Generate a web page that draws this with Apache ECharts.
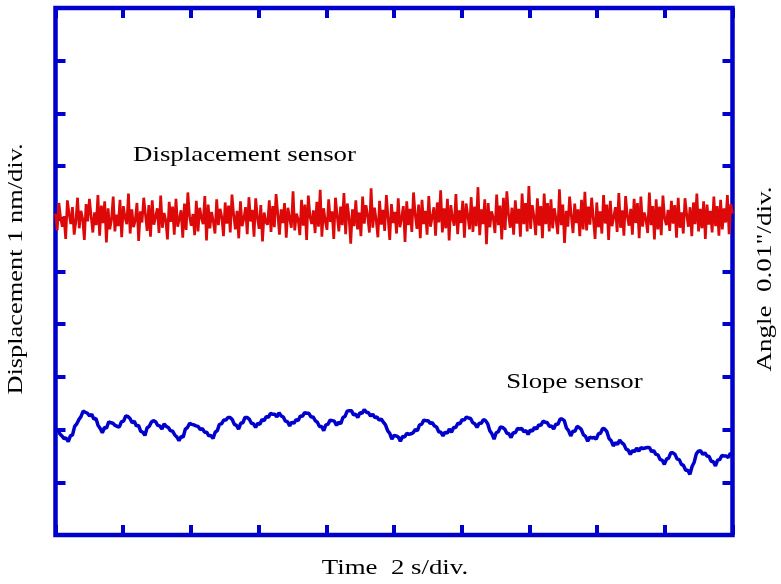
<!DOCTYPE html>
<html>
<head>
<meta charset="utf-8">
<script src="https://cdn.jsdelivr.net/npm/echarts@6/dist/echarts.min.js"></script>
<style>
html,body{margin:0;padding:0;background:#fff;}
#chart{width:781px;height:584px;}
</style>
</head>
<body>
<div id="chart"></div>
<script>
// Time axis: 10 divisions of 2 s
const xTicks = [0,2,4,6,8,10,12,14,16,18,20];
// Vertical axis: 10 divisions
const yTicks = [0,1,2,3,4,5,6,7,8,9,10];

// Displacement sensor signal (in divisions), uniformly sampled over 0..20 s
const displacement = [
6.10,5.78,6.30,6.02,5.85,6.05,5.62,6.35,6.10,5.90,
6.22,5.70,5.95,6.40,5.82,6.15,6.00,5.60,6.28,5.95,
6.38,6.05,5.74,6.12,5.88,6.45,5.68,6.25,5.92,6.33,
5.55,6.20,5.80,5.98,6.42,5.76,6.08,5.86,6.36,5.65,
6.24,6.02,5.90,6.48,5.72,6.18,5.84,5.97,6.30,5.58,
6.14,5.93,6.40,6.08,5.77,6.26,5.66,6.35,5.89,6.04,
6.20,5.73,6.44,5.83,6.11,5.97,5.61,6.32,5.94,6.23,
5.70,6.38,5.85,6.00,6.16,5.64,6.29,5.79,6.50,6.05,
5.87,6.09,5.69,6.34,5.76,6.21,6.02,5.90,6.43,5.59,
6.27,5.82,6.13,5.95,5.72,6.37,5.88,6.19,6.04,5.67,
6.31,5.91,6.25,5.74,6.46,6.08,5.80,6.15,5.63,6.33,
5.86,6.00,6.22,5.71,6.41,5.95,6.17,5.66,6.39,6.02,
5.81,6.26,5.57,6.12,5.93,5.89,6.35,5.75,6.24,5.84,
6.47,6.10,5.70,6.18,5.92,6.30,5.64,6.21,6.00,5.83,
6.52,5.78,6.10,5.99,5.69,6.36,5.87,6.27,5.60,6.44,
6.04,5.90,6.16,5.73,6.32,5.85,6.55,5.66,6.20,5.96,
5.79,6.37,5.94,6.14,5.62,6.40,6.06,5.76,6.23,5.88,
6.49,5.71,6.29,6.03,5.53,6.18,5.86,6.35,5.80,6.12,
5.67,6.42,5.91,6.26,6.05,5.74,6.58,5.83,6.21,5.98,
5.65,6.34,5.89,6.17,5.77,6.45,6.02,5.60,6.28,5.92,
6.13,5.72,6.39,5.84,6.01,6.24,5.56,6.33,5.88,6.19,
5.75,6.50,6.08,5.81,6.27,5.63,6.36,5.90,6.15,5.70,
6.43,5.85,6.03,6.22,5.68,6.31,5.93,6.54,5.74,6.20,
5.82,6.38,5.59,6.26,6.00,5.87,6.47,5.71,6.16,5.92,
6.34,5.64,6.29,6.06,5.80,6.41,5.75,6.23,5.86,6.60,
5.69,6.18,5.90,6.37,5.52,6.30,5.84,6.14,6.02,5.73,
6.46,5.88,6.25,5.61,6.40,5.79,6.52,6.08,5.83,6.21,
5.70,6.35,5.91,6.19,5.66,6.48,5.90,6.30,5.76,6.62,
5.81,6.26,6.04,5.69,6.39,5.87,6.24,5.63,6.48,5.90,
6.30,5.76,6.37,5.82,6.20,5.99,5.71,6.56,5.88,6.27,
5.54,6.15,5.85,6.42,6.06,5.73,6.29,5.92,6.18,5.67,
6.36,5.80,6.51,5.78,6.23,5.89,6.40,6.00,5.62,6.31,
5.84,6.14,5.72,6.45,5.91,6.27,5.60,6.34,5.86,6.03,
6.22,5.75,6.49,5.83,6.16,5.68,6.43,6.05,5.87,6.19,
5.70,6.38,5.92,6.30,5.63,6.42,5.85,6.12,5.99,5.73,
6.50,5.88,6.24,5.61,6.37,5.80,6.23,5.69,6.44,6.01,
5.88,6.17,5.77,6.34,5.91,6.26,5.64,6.40,5.83,6.12,
5.72,6.39,6.08,5.85,6.22,5.67,6.31,5.90,6.48,5.76,
6.19,5.82,6.33,5.62,6.27,5.89,6.15,5.74,6.42,5.86,
6.24,5.68,6.36,5.80,6.20,5.93,6.45,5.71,6.28,6.10
];

// Slope sensor signal (in divisions), uniformly sampled over 0..20 s
const slope = [
1.97,2.01,1.92,1.88,1.83,1.84,1.77,1.88,1.90,2.06,2.11,2.19,2.25,2.35,2.33,2.31,2.26,2.29,2.20,2.21,
2.08,2.02,1.94,2.04,2.03,2.15,2.13,2.12,2.08,2.06,2.05,2.15,2.16,2.26,2.25,2.21,2.13,2.16,2.07,2.08,
1.97,1.95,1.89,2.03,2.06,2.14,2.17,2.15,2.08,2.07,2.01,2.11,2.06,2.04,1.98,1.97,1.90,1.86,1.79,1.87,
1.86,2.01,2.04,2.12,2.10,2.09,2.07,2.06,2.00,2.02,1.95,1.95,1.88,1.89,1.83,1.95,1.98,2.10,2.11,2.18,
2.18,2.23,2.23,2.19,2.10,2.08,2.01,2.12,2.13,2.23,2.23,2.20,2.12,2.11,2.04,2.12,2.10,2.19,2.17,2.25,
2.23,2.31,2.29,2.29,2.24,2.32,2.26,2.24,2.16,2.15,2.07,2.14,2.12,2.19,2.17,2.26,2.25,2.32,2.31,2.31,
2.24,2.24,2.17,2.14,2.06,2.06,1.98,2.09,2.10,2.18,2.17,2.16,2.08,2.14,2.11,2.23,2.25,2.35,2.36,2.36,
2.28,2.29,2.23,2.32,2.31,2.38,2.33,2.32,2.26,2.29,2.23,2.24,2.18,2.20,2.14,2.09,1.98,1.93,1.82,1.89,
1.88,1.86,1.78,1.87,1.86,1.93,1.91,1.92,1.94,2.00,1.98,2.09,2.10,2.18,2.17,2.17,2.12,2.13,2.07,2.05,
1.96,1.95,1.88,1.95,1.93,2.01,1.95,2.04,2.04,2.12,2.11,2.19,2.18,2.24,2.22,2.21,2.13,2.11,2.04,2.12,
2.12,2.19,2.17,2.11,1.98,1.92,1.82,1.94,1.96,2.05,2.04,2.01,1.93,1.92,1.85,1.94,1.94,2.02,2.01,2.02,
1.96,1.98,1.91,1.99,1.97,2.04,2.01,2.09,2.08,2.16,2.14,2.13,2.06,2.07,2.01,2.10,2.10,2.20,2.20,2.17,
2.03,1.98,1.88,1.97,1.97,2.06,2.04,2.00,1.90,1.87,1.78,1.86,1.84,1.85,1.82,1.92,1.93,2.02,2.01,1.96,
1.83,1.79,1.69,1.75,1.72,1.80,1.75,1.72,1.63,1.61,1.53,1.60,1.58,1.65,1.59,1.66,1.64,1.65,1.66,1.66,
1.58,1.60,1.53,1.52,1.43,1.42,1.34,1.44,1.46,1.56,1.56,1.53,1.44,1.43,1.34,1.32,1.23,1.23,1.15,1.30,
1.38,1.54,1.59,1.60,1.53,1.56,1.50,1.49,1.40,1.39,1.31,1.42,1.43,1.51,1.50,1.50,1.47,1.55,1.52
];

const texts = {
  xName: 'Time  2 s/div.',
  yLeftName: 'Displacement 1 nm/div.',
  yRightName: 'Angle  0.01"/div.',
  dispLabel: 'Displacement sensor',
  slopeLabel: 'Slope sensor'
};

const T_MAX = xTicks[xTicks.length - 1];
const toPairs = arr => arr.map((v, i) => [i * T_MAX / (arr.length - 1), v]);

const BLUE = '#0000CC';
const RED = '#DD0808';
const FONT = '"Liberation Serif", "Times New Roman", serif';
const FONT_CSS = '22px ' + FONT;

const tickStyle = { show: true, inside: true, length: 10, lineStyle: { color: BLUE, width: 4 } };
const hiddenLine = { show: false, onZero: false };

function label(text, x, y, rot, sx) {
  return {
    type: 'text', x: x, y: y, rotation: rot, scaleX: sx, scaleY: 1, z: 10,
    style: {
      text: text, font: FONT_CSS, fill: '#000',
      textAlign: 'center', textVerticalAlign: 'middle',
      align: 'center', verticalAlign: 'middle'
    }
  };
}

const chart = echarts.init(document.getElementById('chart'), null, { renderer: 'canvas' });
chart.setOption({
  animation: false,
  backgroundColor: '#fff',
  grid: {
    left: 55.5, right: 48.5, top: 8, bottom: 49,
    outerBoundsMode: 'none', containLabel: false,
    show: true, borderColor: BLUE, borderWidth: 4.5, backgroundColor: 'transparent'
  },
  xAxis: [
    {
      type: 'value', position: 'bottom', min: xTicks[0], max: T_MAX, interval: 2,
      axisLine: hiddenLine, axisTick: tickStyle, axisLabel: { show: false }, splitLine: { show: false }
    },
    {
      type: 'value', position: 'top', min: xTicks[0], max: T_MAX, interval: 2,
      axisLine: hiddenLine, axisTick: tickStyle, axisLabel: { show: false }, splitLine: { show: false }
    }
  ],
  yAxis: [
    {
      type: 'value', position: 'left', min: yTicks[0], max: yTicks[yTicks.length - 1], interval: 1,
      axisLine: hiddenLine, axisTick: tickStyle, axisLabel: { show: false }, splitLine: { show: false }
    },
    {
      type: 'value', position: 'right', min: yTicks[0], max: yTicks[yTicks.length - 1], interval: 1,
      axisLine: hiddenLine, axisTick: tickStyle, axisLabel: { show: false }, splitLine: { show: false }
    }
  ],
  series: [
    {
      type: 'line', xAxisIndex: 0, yAxisIndex: 0, data: toPairs(displacement),
      showSymbol: false, symbol: 'none', lineStyle: { color: RED, width: 2.7 }, z: 3
    },
    {
      type: 'line', xAxisIndex: 0, yAxisIndex: 0, data: toPairs(slope),
      showSymbol: false, symbol: 'none', lineStyle: { color: BLUE, width: 3.5 }, z: 3
    }
  ],
  graphic: [
    label(texts.dispLabel, 244.5, 155, 0, 1.22),
    label(texts.slopeLabel, 574.5, 382, 0, 1.22),
    label(texts.xName, 395, 568.5, 0, 1.22),
    label(texts.yLeftName, 16, 269, Math.PI / 2, 1.2),
    label(texts.yRightName, 765, 279, Math.PI / 2, 1.23)
  ]
});
</script>
</body>
</html>
